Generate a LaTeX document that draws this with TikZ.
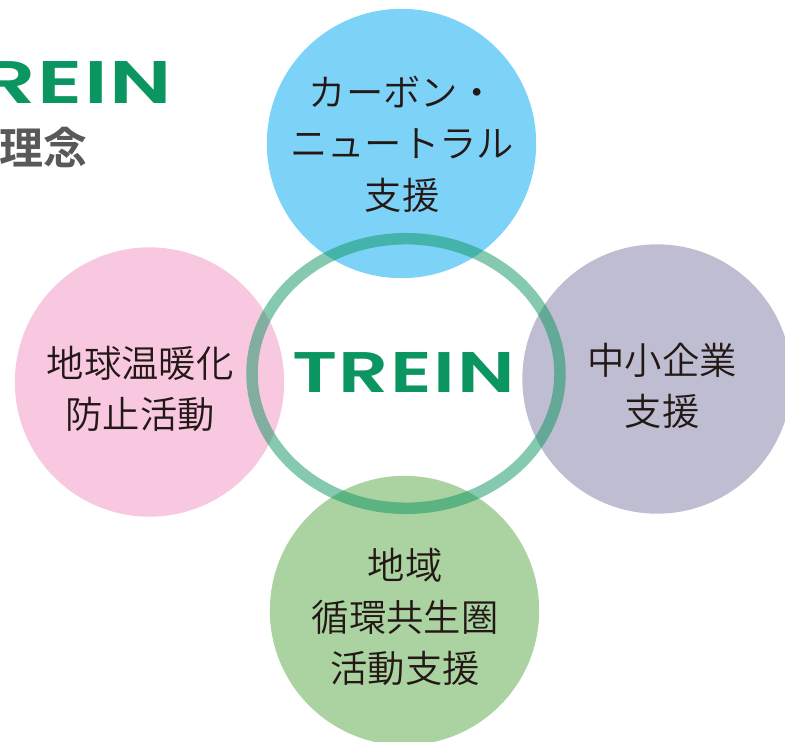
\documentclass[tikz,border=0pt]{standalone}
\usepackage{fontspec}
\setmainfont{Noto Sans CJK JP}[UprightFont={* DemiLight},BoldFont={* Bold}]
\newfontfamily\logofont{Poppins SemiBold}[LetterSpace=2]
\definecolor{bubbleblue}{HTML}{7DD2F7}
\definecolor{bubblepink}{HTML}{F8C8E0}
\definecolor{bubblegrey}{HTML}{BEBDD2}
\definecolor{bubblegreen}{HTML}{AAD3A1}
\definecolor{treingreen}{HTML}{0B9560}
\definecolor{bubbleink}{HTML}{231815}
\definecolor{headgrey}{HTML}{595959}
\newcommand{\treinlogo}[2]{\resizebox{#1}{#2}{\logofont TREIN}}

\begin{document}
\begin{tikzpicture}[x=0.75pt, y=-0.75pt,
    bubble/.style={circle, minimum size=202pt, inner sep=0pt},
    bubbletext/.style={align=center, font=\fontsize{28pt}{38.6pt}\selectfont, text=bubbleink, inner sep=0pt},
    logo/.style={text=treingreen, inner sep=0pt},
    ]
    \clip (0,0) rectangle (785,742);
    \useasboundingbox (0,0) rectangle (785,742);
    % four circles
    \node[bubble, fill=bubbleblue]  (carbon) at (401.5,143.5) {};
    \node[bubble, fill=bubblepink]  (warming) at (149.5,382) {};
    \node[bubble, fill=bubblegrey]  (sme) at (657,379) {};
    \node[bubble, fill=bubblegreen] (region) at (404.5,610.5) {};
    % ring in the middle
    \draw[treingreen, opacity=0.5, line width=8.6pt] (406,373.5) ellipse (154 and 134.8);
    % labels
    \node[bubbletext] (carbontext) at (402,144) {カーボン・\\ニュートラル\\支援};
    \node[bubbletext] (warmingtext) at (140,389) {地球温暖化\\防止活動};
    \node[bubbletext] (smetext) at (662,386) {中小企業\\支援};
    \node[bubbletext] (regiontext) at (405,617) {地域\\循環共生圏\\活動支援};
    % logos and heading
    \node[logo] (centrelogo) at (403.5,372.5) {\treinlogo{167pt}{30pt}};
    \node[logo, anchor=east] (toplogo) at (172,82.5) {\treinlogo{181pt}{31.5pt}};
    \node[anchor=west, inner sep=0pt, text=headgrey, font=\fontsize{33pt}{33pt}\selectfont\bfseries] (heading) at (-1,147) {理念};
\end{tikzpicture}
\end{document}
